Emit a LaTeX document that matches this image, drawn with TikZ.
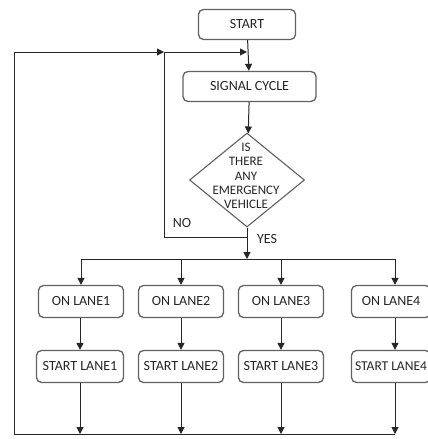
\documentclass[tikz,border=0pt]{standalone}
\usepackage{fontspec}
\setmainfont{Carlito}
\usetikzlibrary{shapes.geometric,arrows.meta}
\begin{document}
\begin{tikzpicture}[x=1pt,y=1pt,
  font=\fontsize{14}{16}\selectfont,
  line/.style={draw=black!85, line width=1pt},
  arr/.style={line, -{Triangle[width=7pt,length=7pt]}},
  box/.style={draw=black!62, line width=1.3pt, rounded corners=5pt, fill=white,
    inner sep=0pt, text=black!85},
  lanebox/.style={box, minimum width=85pt, minimum height=32pt},
  dia/.style={diamond, draw=black!62, line width=1.1pt, fill=white, inner sep=0pt,
    minimum width=115pt, minimum height=94pt}
]
\path[use as bounding box] (0,0) rectangle (428,-439);
\fill[white] (0,0) rectangle (428,-439);

% main column
\node[box, minimum width=97pt, minimum height=30pt] (start) at (247,-24.5) {START};
\node[box, minimum width=133pt, minimum height=30pt] (sig) at (249.5,-86.5) {SIGNAL CYCLE};
\node[dia] (d) at (247,-180) {};
\node[align=center, inner sep=0pt, text=black!85, font=\fontsize{13}{14.2}\selectfont] (dtxt) at (246,-176) {IS\\THERE\\ANY\\EMERGENCY\\VEHICLE};

% lanes
\node[lanebox] (on1) at (81,-301.5) {ON LANE1};
\node[lanebox] (on2) at (181,-301.5) {ON LANE2};
\node[lanebox] (on3) at (281,-301.5) {ON LANE3};
\node[lanebox, minimum width=79pt] (on4) at (391,-301.5) {ON LANE4};
\node[lanebox, minimum width=87pt] (sl1) at (80,-366.5) {START LANE1};
\node[lanebox] (sl2) at (181,-366.5) {START LANE2};
\node[lanebox] (sl3) at (281,-366.5) {START LANE3};
\node[lanebox, minimum width=79pt, font=\fontsize{13.5}{16}\selectfont] (sl4) at (391,-366.5) {START LANE4};

% coordinates
\coordinate (m) at (247,-52);
\coordinate (j) at (164,-52);
\coordinate (topL) at (14,-52);
\coordinate (botL) at (14,-434);
\coordinate (noP) at (247,-237);
\coordinate (noC) at (164,-237);
\coordinate (bus) at (247,-259);
\coordinate (bus1) at (81,-259);
\coordinate (bus2) at (181,-259);
\coordinate (bus3) at (281,-259);
\coordinate (bus4) at (395,-259);
\coordinate (b1) at (80,-434);
\coordinate (b2) at (181,-434);
\coordinate (b3) at (281,-434);
\coordinate (b4) at (395,-434);

% connectors
\draw[arr] (start) -- (sig);
\draw[arr] (sig) -- (d);
\draw[arr] (d.south) -- (bus);
\draw[line] (bus1) -- (bus4);
\draw[arr] (bus1) -- (on1);
\draw[arr] (bus2) -- (on2);
\draw[arr] (bus3) -- (on3);
\draw[arr] (bus4) -- (bus4 |- on4.north);
\draw[arr] (on1.south -| sl1) -- (sl1);
\draw[arr] (on2) -- (sl2);
\draw[arr] (on3) -- (sl3);
\draw[arr] (on4.south -| bus4) -- (bus4 |- sl4.north);
\draw[arr] (sl1) -- (b1);
\draw[arr] (sl2) -- (b2);
\draw[arr] (sl3) -- (b3);
\draw[arr] (sl4.south -| b4) -- (b4);
\draw[line] (botL) -- (b4);
\draw[arr] (botL) -- (topL) -- (j);
\draw[arr] (noP) -- (noC) -- (j) -- (m);

% labels
\node[inner sep=0pt, text=black!85] (no) at (182,-223) {NO};
\node[inner sep=0pt, text=black!85] (yes) at (267,-239) {YES};
\end{tikzpicture}
\end{document}
